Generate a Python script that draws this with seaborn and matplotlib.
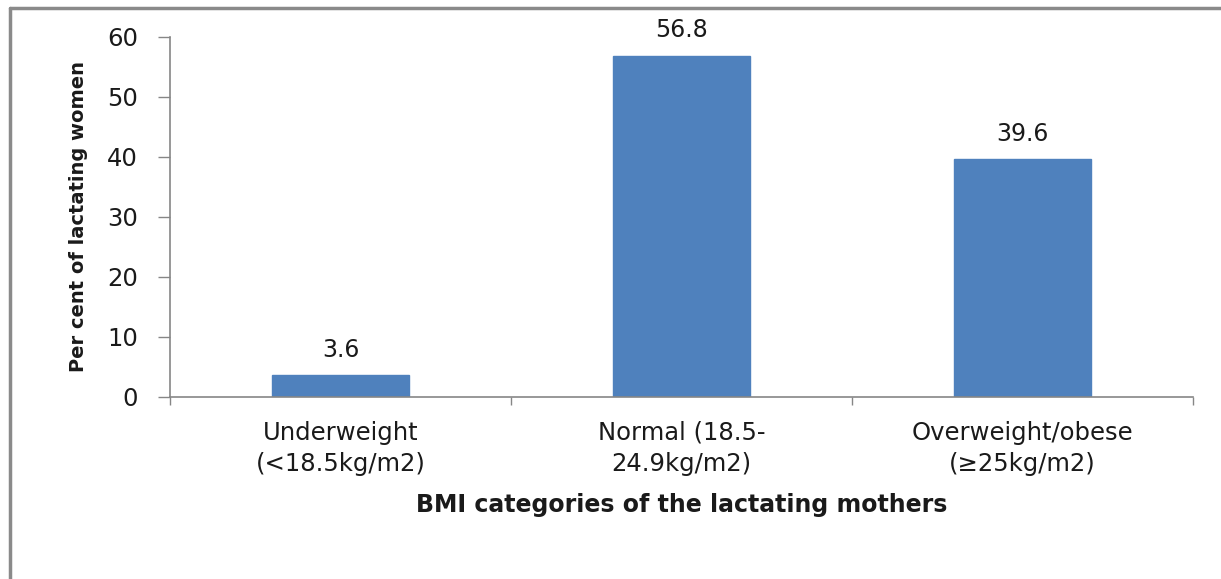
import matplotlib
matplotlib.use("Agg")
import matplotlib.pyplot as plt
import seaborn as sns
import pandas as pd
from matplotlib.lines import Line2D

categories = ["Underweight\n(<18.5kg/m2)", "Normal (18.5-\n24.9kg/m2)", "Overweight/obese\n(≥25kg/m2)"]
percent = [3.6, 56.8, 39.6]
y_ticks = [0, 10, 20, 30, 40, 50, 60]

sns.set_theme(style="white")
plt.rcParams["font.family"] = ["DejaVu Sans"]

df = pd.DataFrame({"category": categories, "percent": percent})

fig = plt.figure(figsize=(12.21, 5.79), dpi=100)
ax = fig.add_axes([170 / 1221, 1 - 397 / 579, (1193 - 170) / 1221, (397 - 37) / 579])

bar_color = "#4F81BD"
axis_color = "#868686"
text_color = "#1a1a1a"

sns.barplot(data=df, x="category", y="percent", color=bar_color, width=0.4,
            saturation=1, ax=ax, edgecolor=bar_color)

ax.set_xlim(-0.5, 2.5)
ax.set_ylim(0, 60)
ax.set_yticks(y_ticks)
ax.set_yticklabels([str(t) for t in y_ticks], fontsize=17.5, color=text_color)

# category boundary ticks on the x axis
ax.set_xticks([-0.5, 0.5, 1.5, 2.5], minor=False)
ax.set_xticklabels([])
ax.set_xticks([0, 1, 2], minor=True)
ax.set_xticklabels(categories, minor=True, fontsize=17.5, color=text_color, linespacing=1.4)
ax.tick_params(axis="x", which="minor", bottom=False, length=0, pad=17)
ax.tick_params(axis="x", which="major", bottom=True, length=6, width=1,
               color=axis_color, direction="out")
ax.tick_params(axis="y", left=True, length=9, width=1, color=axis_color,
               direction="out", pad=14)

for side in ["top", "right"]:
    ax.spines[side].set_visible(False)
for side in ["left", "bottom"]:
    ax.spines[side].set_color(axis_color)
    ax.spines[side].set_linewidth(1.2)

for i, v in enumerate(percent):
    ax.annotate(f"{v}", xy=(i, v), xytext=(0, 10), textcoords="offset points",
                ha="center", va="bottom", fontsize=17, color=text_color)

ax.set_xlabel("BMI categories of the lactating mothers", fontsize=17,
              fontweight="bold", color=text_color, labelpad=12)
ax.set_ylabel("Per cent of lactating women", fontsize=14,
              fontweight="bold", color=text_color, labelpad=14)

# outer frame of the chart area
W, H = 1221, 579
fig.add_artist(Line2D([10 / W, 10 / W], [0, 1 - 8 / H], transform=fig.transFigure,
                      color="#8a8a8a", linewidth=2.5))
fig.add_artist(Line2D([10 / W, 1], [1 - 8 / H, 1 - 8 / H], transform=fig.transFigure,
                      color="#8a8a8a", linewidth=2.5))

fig.savefig("out.png", dpi=100, facecolor="white")
